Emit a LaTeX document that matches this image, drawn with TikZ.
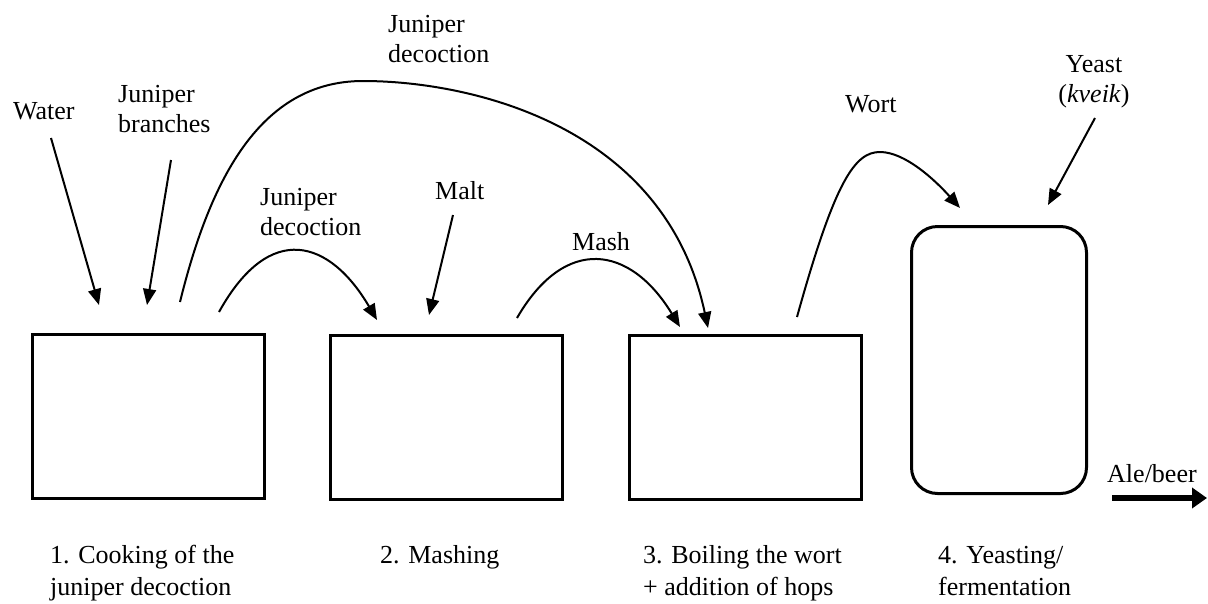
\documentclass[tikz,border=0pt]{standalone}
\usepackage{fontspec}
\setmainfont{Liberation Serif}
\usetikzlibrary{arrows.meta}
\tikzset{
  lbl/.style={inner sep=0pt, anchor=base west, align=left, font=\fontsize{26}{30}\selectfont},
  stagelbl/.style={lbl, font=\fontsize{26}{32}\selectfont},
  clbl/.style={inner sep=0pt, anchor=base, align=center, font=\fontsize{26}{30}\selectfont},
  stagebox/.style={draw, line width=3pt, minimum width=232pt, minimum height=164pt, inner sep=0pt},
  tankbox/.style={draw, line width=3pt, minimum width=175pt, minimum height=267pt, rounded corners=26pt, inner sep=0pt},
  flow/.style={line width=2pt, -{Triangle[length=16pt,width=13pt]}},
  outflow/.style={line width=6pt, -{Triangle[length=15pt,width=20pt]}}
}
\begin{document}
\begin{tikzpicture}[x=1pt,y=-1pt]
\useasboundingbox (0,0) rectangle (1208,603);
% boxes
\node[stagebox] (b1) at (148.5,416.5) {};
\node[stagebox] (b2) at (446.5,417.5) {};
\node[stagebox] (b3) at (745.5,417) {};
\node[tankbox] (b4) at (999,360) {};
% labels (multi-line nodes are anchored at the baseline of their last line)
\node[lbl] (water) at (13,119) {Water};
\node[lbl] (branches) at (118,132) {Juniper\\branches};
\node[lbl] (jd1) at (260,235) {Juniper\\decoction};
\node[lbl] (jd2) at (388,62) {Juniper\\decoction};
\node[lbl] (malt) at (435,199) {Malt};
\node[lbl] (mash) at (572,250) {Mash};
\node[lbl] (wort) at (845,112) {Wort};
\node[clbl] (yeast) at (1094,102) {Yeast\\(\textit{kveik})};
\node[lbl] (ale) at (1107,482) {Ale/beer};
\node[stagelbl] (s1) at (50,595) {1. Cooking of the\\juniper decoction};
\node[stagelbl] (s2) at (380,563) {2. Mashing};
\node[stagelbl] (s3) at (643,595) {3. Boiling the wort\\+ addition of hops};
\node[stagelbl] (s4) at (938,595) {4. Yeasting/\\fermentation};
% connector ends
\coordinate (waterS) at (51,138);
\coordinate (waterE) at (99,305);
\coordinate (branchS) at (171,160);
\coordinate (branchE) at (147,305);
\coordinate (bigS) at (180,302);
\coordinate (bigTop) at (363,81);
\coordinate (bigE) at (708,328);
\coordinate (jdS) at (219,312);
\coordinate (jdE) at (377,320);
\coordinate (maltS) at (453,215);
\coordinate (maltE) at (429,315);
\coordinate (mashS) at (517,318);
\coordinate (mashE) at (680,327);
\coordinate (wortS) at (797,317);
\coordinate (wortTop) at (880,152);
\coordinate (wortE) at (960,208);
\coordinate (yeastS) at (1095,118);
\coordinate (yeastE) at (1048,205);
\coordinate (aleS) at (1112,498);
\coordinate (aleE) at (1207,498);
% connectors
\draw[flow] (waterS) -- (waterE);
\draw[flow] (branchS) -- (branchE);
\draw[flow] (bigS) .. controls (210,180) and (260,81) .. (bigTop)
  .. controls (470,81) and (665,125) .. (bigE);
\draw[flow] (jdS) .. controls (270,220) and (330,240) .. (jdE);
\draw[flow] (maltS) -- (maltE);
\draw[flow] (mashS) .. controls (565,235) and (630,245) .. (mashE);
\draw[flow] (wortS) .. controls (835,180) and (855,152) .. (wortTop)
  .. controls (905,152) and (935,180) .. (wortE);
\draw[flow] (yeastS) -- (yeastE);
\draw[outflow] (aleS) -- (aleE);
\end{tikzpicture}
\end{document}
